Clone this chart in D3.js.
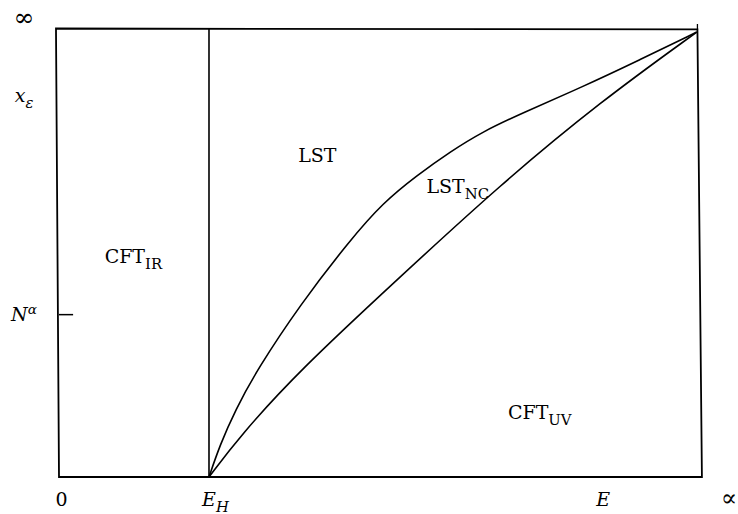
<!DOCTYPE html>
<html>
<head>
<meta charset="utf-8">
<script src="https://cdn.jsdelivr.net/npm/d3@7"></script>
<style>
  body { margin: 0; background: #fff; }
</style>
</head>
<body>
<script>
// boundary curves (x: energy scale, y: vertical scale, both 0..100)
const lstCurve = [
  [23.4, 0], [25.1, 7.1], [27.5, 14.9], [30.9, 23.9], [37.6, 38.4], [45.4, 52.8],
  [50.5, 61.1], [55.9, 67.3], [61.0, 72.5], [66.1, 77.0], [71.9, 80.9], [81.7, 87.0],
  [90.6, 93.0], [99.5, 99.2]
];
const ncCurve = [
  [23.4, 0], [28.2, 9.1], [37.6, 23.9], [53.2, 44.6], [68.8, 65.1], [84.4, 83.6], [99.5, 99.2]
];
// hand drawn frame is a bit skewed
const frame = [[0, 0], [-0.47, 100], [99.6, 99.8], [100.3, 0]];
const ehValue = 23.4;
const nAlphaValue = 36.2;

const xTicks = [
  { label: "0", x: 0.4 },
  { label: "E", sub: "H", x: 24.4, italic: true },
  { label: "E", x: 84.9, italic: true },
  { label: "∝", x: 104.5, size: 24 }
];
const yTicks = [
  { label: "∞", y: 102.2, size: 25 },
  { label: "x", sub: "ε", y: 85.2, italic: true },
  { label: "N", sup: "α", y: 36.4, italic: true }
];
const regions = [
  { label: "LST", x: 40.3, y: 71.7 },
  { label: "LST", sub: "NC", x: 62.2, y: 64.8 },
  { label: "CFT", sub: "IR", x: 11.6, y: 49.3 },
  { label: "CFT", sub: "UV", x: 75.0, y: 14.5 }
];

const width = 738, height = 514;
const serif = "DejaVu Serif";

const x = d3.scaleLinear().domain([0, 100]).range([59, 700]);
const y = d3.scaleLinear().domain([0, 100]).range([477, 28.5]);

const svg = d3.select("body").append("svg")
  .attr("width", width)
  .attr("height", height)
  .attr("font-family", serif);

const line = d3.line()
  .x(d => x(d[0]))
  .y(d => y(d[1]));

// frame
svg.append("path")
  .attr("d", line(frame) + "Z")
  .attr("fill", "none")
  .attr("stroke", "#000")
  .attr("stroke-width", 1.8);

// E_H vertical
svg.append("path")
  .attr("d", line([[ehValue, 0], [ehValue, 100]]))
  .attr("stroke", "#000")
  .attr("stroke-width", 1.6);

// small ticks
svg.append("path")
  .attr("d", line([[0, nAlphaValue], [2.2, nAlphaValue]]))
  .attr("stroke", "#000")
  .attr("stroke-width", 1.5);
svg.append("path")
  .attr("d", line([[99.6, 99.8], [99.6, 101]]))
  .attr("stroke", "#000")
  .attr("stroke-width", 1.3);

// curves
const smooth = d3.line()
  .x(d => x(d[0]))
  .y(d => y(d[1]))
  .curve(d3.curveBasis);

svg.selectAll(".boundary")
  .data([lstCurve, ncCurve])
  .join("path")
  .attr("class", "boundary")
  .attr("d", smooth)
  .attr("fill", "none")
  .attr("stroke", "#000")
  .attr("stroke-width", 1.6);

// helper for labels with sub/superscripts
function addLabel(sel, d, size) {
  size = d.size || size;
  const t = sel.append("text")
    .attr("font-family", serif)
    .attr("font-size", size)
    .attr("font-weight", 300)
    .attr("fill", "#000");
  t.append("tspan")
    .attr("font-style", d.italic ? "italic" : null)
    .text(d.label);
  if (d.sub) {
    t.append("tspan")
      .attr("font-size", size * 0.78)
      .attr("font-style", d.italic && d.sub !== "NC" ? "italic" : null)
      .attr("dy", size * 0.3)
      .text(d.sub);
  }
  if (d.sup) {
    t.append("tspan")
      .attr("font-size", size * 0.72)
      .attr("font-style", "italic")
      .attr("dy", -size * 0.38)
      .text(d.sup);
  }
  return t;
}

xTicks.forEach(d => {
  addLabel(svg, d, 19)
    .attr("x", x(d.x))
    .attr("y", 506)
    .attr("text-anchor", "middle");
});

yTicks.forEach(d => {
  addLabel(svg, d, 19)
    .attr("x", 24)
    .attr("y", y(d.y) + 7)
    .attr("text-anchor", "middle");
});

regions.forEach(d => {
  addLabel(svg, d, 19)
    .attr("x", x(d.x))
    .attr("y", y(d.y) + 7)
    .attr("text-anchor", "middle");
});
</script>
</body>
</html>
